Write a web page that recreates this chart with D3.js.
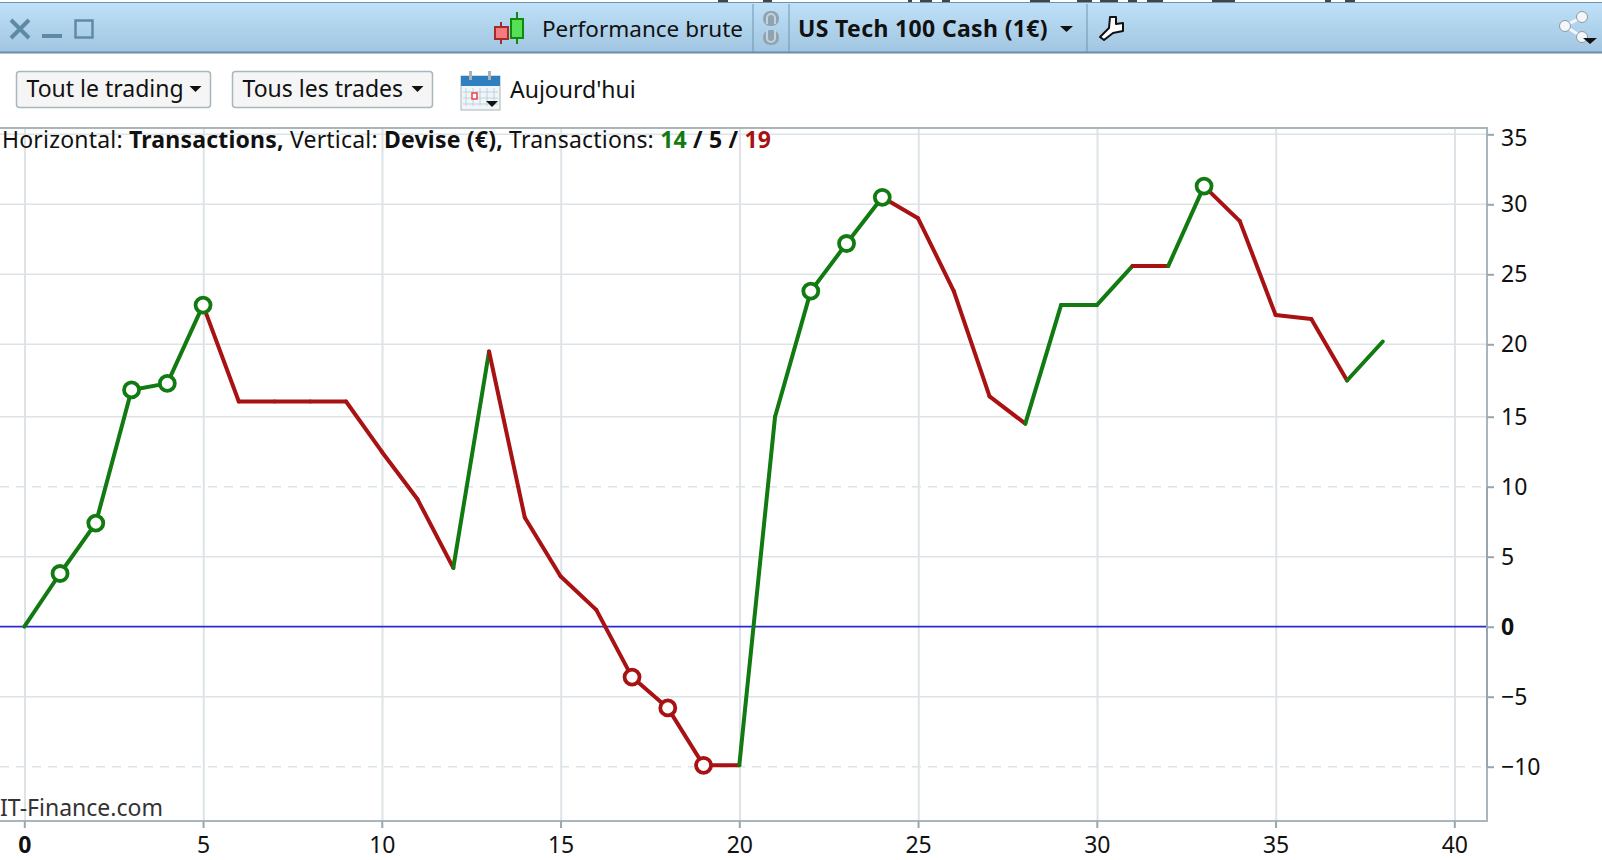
<!DOCTYPE html>
<html>
<head>
<meta charset="utf-8">
<script src="https://cdn.jsdelivr.net/npm/d3@7"></script>
<style>
  body { margin: 0; background: #fff; }
  svg { display: block; }
  text { font-family: "Noto Sans", sans-serif; fill: #111; }
</style>
</head>
<body>
<svg id="chart" width="1602" height="860"></svg>
<script>
// cumulative performance (EUR) after each trade
const trades = d3.range(0, 39);
const equity = [0, 3.8, 7.4, 16.85, 17.3, 22.8, 16.05, 16.05, 16.05, 16.05, 12.5, 9.1, 4.2, 19.5, 7.8, 3.6, 1.2,
    -3.6, -5.8, -9.9, -9.9, 15, 23.8, 27.2, 30.5, 29, 23.8, 16.4, 14.5, 22.8, 22.8, 25.6, 25.6, 31.3, 28.8, 22.1, 21.8, 17.5, 20.2];
// result of each trade: 1 gain, 0 loss
const results = [1, 1, 1, 1, 1, 0, 0, 0, 0, 0, 0, 0, 1, 0, 0, 0, 0, 0, 0, 0, 1, 1, 1, 1, 0, 0, 0, 0, 1, 1, 1, 0, 1, 0, 0, 0, 0, 1];
const markersUp = [1, 2, 3, 4, 5, 22, 23, 24, 33];
const markersDown = [17, 18, 19];
const xTicks = d3.range(0, 41, 5);
const yTicks = d3.range(-10, 36, 5);
const dashedLevels = [10, -10];

const GREEN = "#117a11", RED = "#a81212", GRID = "#dde3e6", AXIS = "#a9b7bd", AXIS_DARK = "#98a7af";
const plot = { left: 0, right: 1487, top: 128, bottom: 821 };

const svg = d3.select("#chart");

// bits of the window above, cut off by the screenshot
[[718, 10], [763, 9], [908, 4], [920, 12], [942, 8], [1030, 20], [1077, 15], [1100, 18], [1128, 9], [1147, 16], [1212, 23], [1325, 6], [1345, 10]].forEach(b => {
    svg.append("rect").attr("x", b[0]).attr("y", 0).attr("width", b[1]).attr("height", 2).attr("fill", "#444");
});

// toolbar background
const grad = svg.append("defs").append("linearGradient")
    .attr("id", "bar").attr("x1", 0).attr("x2", 0).attr("y1", 0).attr("y2", 1);
grad.append("stop").attr("offset", 0).attr("stop-color", "#bfe1f9");
grad.append("stop").attr("offset", 1).attr("stop-color", "#a1c5e0");

const bar = svg.append("g");
bar.append("rect").attr("x", 0).attr("y", 2).attr("width", 1602).attr("height", 51)
    .attr("fill", "url(#bar)");
bar.append("line").attr("x1", 0).attr("x2", 1602).attr("y1", 2.5).attr("y2", 2.5).attr("stroke", "#6f95ad");
bar.append("line").attr("x1", 0).attr("x2", 1602).attr("y1", 52.5).attr("y2", 52.5).attr("stroke", "#6a8ea6").attr("stroke-width", 2);
[753, 789, 1087].forEach(x => {
    bar.append("line").attr("x1", x).attr("x2", x).attr("y1", 4).attr("y2", 52).attr("stroke", "#6f95ad");
});

// window buttons
bar.append("path").attr("d", "M11,20 L29,38 M29,20 L11,38").attr("stroke", "#5f8aa6").attr("stroke-width", 4).attr("fill", "none");
bar.append("rect").attr("x", 42).attr("y", 34).attr("width", 20).attr("height", 4).attr("fill", "#5f8aa6");
bar.append("rect").attr("x", 75.5).attr("y", 20.5).attr("width", 17).attr("height", 17).attr("fill", "none").attr("stroke", "#5f8aa6").attr("stroke-width", 2.5);

// candle icon
bar.append("line").attr("x1", 501).attr("x2", 501).attr("y1", 22).attr("y2", 44).attr("stroke", "#a52a2a").attr("stroke-width", 2);
bar.append("rect").attr("x", 495).attr("y", 27).attr("width", 13).attr("height", 12).attr("fill", "#f47c7c").attr("stroke", "#a52a2a").attr("stroke-width", 2);
bar.append("line").attr("x1", 517).attr("x2", 517).attr("y1", 12).attr("y2", 44).attr("stroke", "#0f8a0f").attr("stroke-width", 2);
bar.append("rect").attr("x", 511).attr("y", 19).attr("width", 12).attr("height", 19).attr("fill", "#55e055").attr("stroke", "#0f8a0f").attr("stroke-width", 2);

bar.append("text").attr("x", 542).attr("y", 37).attr("font-size", 22.5).text("Performance brute");

// link icon
[[763, 11, "M767,24 V18 A4,4 0 0 1 775,18 V24"], [763, 30, "M767,30 V38 A4,4 0 0 0 775,38 V30"]].forEach(l => {
    bar.append("rect").attr("x", l[0]).attr("y", l[1]).attr("width", 16).attr("height", 15).attr("rx", 7).attr("fill", "#8fa3b0");
    bar.append("path").attr("d", l[2]).attr("fill", "none").attr("stroke", "#c3d3dd").attr("stroke-width", 2);
});

bar.append("text").attr("x", 798).attr("y", 37).attr("font-size", 23).attr("font-weight", 700)
    .style("letter-spacing", "0.35px").text("US Tech 100 Cash (1€)");
bar.append("path").attr("d", "M1060,26 L1073,26 L1066.5,32 Z").attr("fill", "#111");

// wrench icon
bar.append("path").attr("d", "M1110,17 L1116,17 L1116,24 L1123,23 L1123,31 L1113,33 L1104,40 L1100,37 L1109,28 Z")
    .attr("fill", "#fff").attr("stroke", "#111").attr("stroke-width", 2).attr("stroke-linejoin", "round");

// share icon
bar.append("path").attr("d", "M1582,17 L1565,26 L1582,37").attr("stroke", "#f4f6f8").attr("stroke-width", 3).attr("fill", "none");
[[1582, 17], [1565, 26], [1582, 37]].forEach(p => {
    bar.append("circle").attr("cx", p[0]).attr("cy", p[1]).attr("r", 5.5).attr("fill", "#f4f6f8").attr("stroke", "#8a9aa5");
});
bar.append("path").attr("d", "M1583,38 L1597,38 L1590,44 Z").attr("fill", "#111");

// filter buttons
const buttons = [
    { x: 16.5, w: 194, label: "Tout le trading" },
    { x: 232.5, w: 200, label: "Tous les trades" }
];
buttons.forEach(b => {
    svg.append("rect").attr("x", b.x).attr("y", 71.5).attr("width", b.w).attr("height", 36).attr("rx", 3)
        .attr("fill", "#f5f5f5").attr("stroke", "#a8b6bd").attr("stroke-width", 1.5);
    svg.append("text").attr("x", b.x + 10).attr("y", 97).attr("font-size", 23).text(b.label);
    svg.append("path").attr("d", `M${b.x + b.w - 21},86 h12 l-6,6 Z`).attr("fill", "#111");
});

// calendar icon
const cal = svg.append("g");
cal.append("rect").attr("x", 461).attr("y", 76).attr("width", 39).attr("height", 34).attr("fill", "#f2f5f7").attr("stroke", "#a9b3b9");
cal.append("rect").attr("x", 461).attr("y", 76).attr("width", 39).attr("height", 10).attr("fill", "#2f7fc0");
cal.append("rect").attr("x", 469).attr("y", 71).attr("width", 3).attr("height", 9).attr("fill", "#a9b3b9");
cal.append("rect").attr("x", 488).attr("y", 71).attr("width", 3).attr("height", 9).attr("fill", "#a9b3b9");
d3.range(0, 5).forEach(i => {
    cal.append("line").attr("x1", 466 + i * 7).attr("x2", 466 + i * 7).attr("y1", 88).attr("y2", 106).attr("stroke", "#b9d3e3");
});
d3.range(0, 3).forEach(i => {
    cal.append("line").attr("x1", 463).attr("x2", 498).attr("y1", 92 + i * 6).attr("y2", 92 + i * 6).attr("stroke", "#b9d3e3");
});
cal.append("rect").attr("x", 472).attr("y", 93).attr("width", 5).attr("height", 6).attr("fill", "#fff").attr("stroke", "#f04040").attr("stroke-width", 1.5);
cal.append("path").attr("d", "M486,101 h12 l-6,6 Z").attr("fill", "#111");

svg.append("text").attr("x", 510).attr("y", 98).attr("font-size", 23).text("Aujourd'hui");

// scales (the rows above 15 sit a little higher on the screenshot)
const x = d3.scaleLinear().domain([0, 40]).range([24.3, 1454.3]);
const y = d3.scaleLinear().domain([-10, 15, 20, 35]).range([766.7, 416.7, 344.3, 134.3]);

// grid
svg.append("g").selectAll("line").data(xTicks).join("line")
    .attr("x1", d => x(d) + 0.7).attr("x2", d => x(d) + 0.7)
    .attr("y1", plot.top).attr("y2", plot.bottom)
    .attr("stroke", GRID).attr("stroke-width", 2);
svg.append("g").selectAll("line").data(yTicks.filter(d => d !== 0)).join("line")
    .attr("x1", plot.left).attr("x2", plot.right)
    .attr("y1", d => y(d)).attr("y2", d => y(d))
    .attr("stroke", GRID).attr("stroke-width", 1.5)
    .attr("stroke-dasharray", d => dashedLevels.includes(d) ? "9 7" : null);
svg.append("line").attr("x1", plot.left).attr("x2", plot.right)
    .attr("y1", y(0)).attr("y2", y(0))
    .attr("stroke", "#2b2bd0").attr("stroke-width", 1.7);

// plot frame
svg.append("path")
    .attr("d", `M0,${plot.top} H${plot.right} V${plot.bottom} H0`)
    .attr("fill", "none").attr("stroke", AXIS).attr("stroke-width", 2);
svg.append("line").attr("x1", plot.right).attr("x2", plot.right)
    .attr("y1", y(10)).attr("y2", y(-10))
    .attr("stroke", AXIS_DARK).attr("stroke-width", 2);

// axes
const xAxis = svg.append("g").attr("transform", `translate(0,${plot.bottom})`)
    .call(d3.axisBottom(x).tickValues(xTicks).tickSize(7).tickPadding(9));
const yAxis = svg.append("g").attr("transform", `translate(${plot.right},0)`)
    .call(d3.axisRight(y).tickValues(yTicks).tickSize(7).tickPadding(7));
[xAxis, yAxis].forEach(a => {
    a.select(".domain").remove();
    a.selectAll(".tick line").attr("stroke", AXIS_DARK).attr("stroke-width", 2);
    a.selectAll(".tick text").attr("font-size", 23).attr("font-family", "'Noto Sans', sans-serif").attr("fill", "#111")
        .attr("font-weight", d => d === 0 ? 700 : 400);
});
// top label is pushed down to stay inside the panel
yAxis.selectAll(".tick text").filter(d => d === 35).attr("dy", "0.5em");

// equity line, one segment per trade
const line = d3.line().x(d => x(d.t)).y(d => y(d.v));
svg.append("g").selectAll("path").data(results).join("path")
    .attr("d", (r, i) => line([{ t: trades[i], v: equity[i] }, { t: trades[i + 1], v: equity[i + 1] }]))
    .attr("fill", "none")
    .attr("stroke", r => r ? GREEN : RED)
    .attr("stroke-width", 4)
    .attr("stroke-linecap", "round");

// markers
const drawMarkers = (list, color) => svg.append("g").selectAll("circle").data(list).join("circle")
    .attr("cx", d => x(d)).attr("cy", d => y(equity[d])).attr("r", 7.5)
    .attr("fill", "#fff").attr("stroke", color).attr("stroke-width", 3.8);
drawMarkers(markersUp, GREEN);
drawMarkers(markersDown, RED);

// caption
const cap = svg.append("text").attr("x", 2).attr("y", 148).attr("font-size", 23).style("letter-spacing", "0.2px");
cap.append("tspan").text("Horizontal: ");
cap.append("tspan").attr("font-weight", 700).text("Transactions,");
cap.append("tspan").text(" Vertical: ");
cap.append("tspan").attr("font-weight", 700).text("Devise (€),");
cap.append("tspan").text(" Transactions: ");
cap.append("tspan").attr("font-weight", 700).style("fill", GREEN).text("14");
cap.append("tspan").attr("font-weight", 700).text(" / 5 / ");
cap.append("tspan").attr("font-weight", 700).style("fill", RED).text("19");

svg.append("text").attr("x", 0).attr("y", 816).attr("font-size", 23).style("fill", "#333").text("IT-Finance.com");
</script>
</body>
</html>
